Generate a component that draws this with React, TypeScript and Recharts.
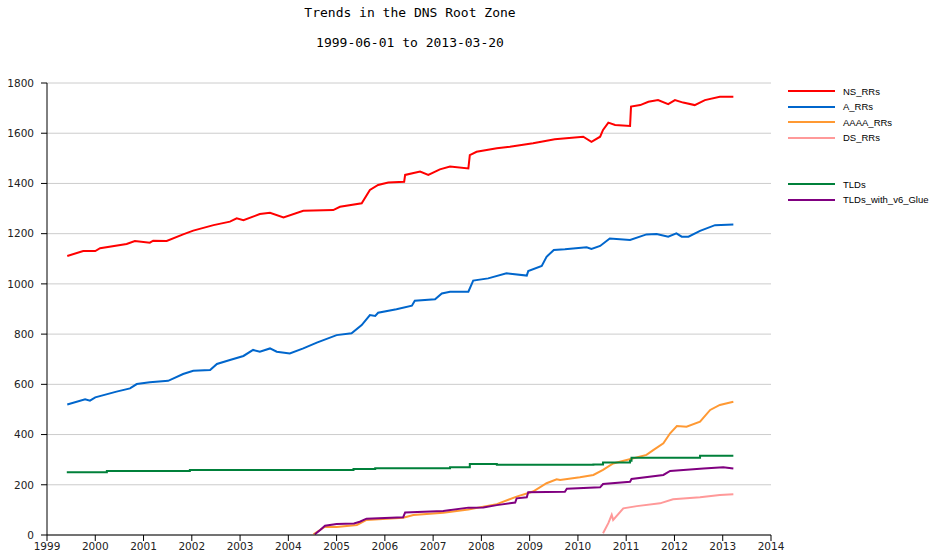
import { LineChart, Line, XAxis, YAxis, CartesianGrid } from "recharts";

// [year, count]
const nsRRs: [number, number][] = [
  [1999.42, 1111], [1999.75, 1131], [2000.0, 1131], [2000.1, 1142], [2000.65, 1159], [2000.82, 1171],
  [2001.13, 1164], [2001.2, 1172], [2001.48, 1171], [2001.82, 1197], [2002.03, 1212], [2002.45, 1234],
  [2002.79, 1248], [2002.93, 1261], [2003.07, 1254], [2003.41, 1278], [2003.62, 1283], [2003.9, 1265],
  [2004.31, 1291], [2004.93, 1294], [2005.07, 1307], [2005.52, 1321], [2005.69, 1374], [2005.86, 1394],
  [2006.07, 1404], [2006.4, 1407], [2006.42, 1434], [2006.73, 1447], [2006.9, 1434], [2007.14, 1456],
  [2007.35, 1467], [2007.73, 1460], [2007.76, 1513], [2007.9, 1526], [2008.32, 1540], [2008.59, 1546],
  [2009.07, 1560], [2009.52, 1576], [2010.11, 1586], [2010.28, 1566], [2010.46, 1586], [2010.52, 1613],
  [2010.63, 1642], [2010.77, 1633], [2011.08, 1629], [2011.1, 1706], [2011.29, 1712], [2011.46, 1725],
  [2011.66, 1732], [2011.87, 1716], [2012.01, 1732], [2012.18, 1722], [2012.42, 1712], [2012.63, 1732],
  [2012.94, 1745], [2013.22, 1745],
];

const aRRs: [number, number][] = [
  [1999.42, 520], [1999.79, 540], [1999.89, 535], [2000.0, 548], [2000.44, 571], [2000.72, 584],
  [2000.86, 601], [2001.13, 608], [2001.51, 614], [2001.82, 641], [2002.03, 654], [2002.38, 657],
  [2002.52, 681], [2002.79, 697], [2003.07, 713], [2003.27, 737], [2003.41, 730], [2003.62, 743],
  [2003.76, 730], [2004.03, 723], [2004.31, 743], [2004.59, 766], [2005.0, 796], [2005.31, 803],
  [2005.52, 836], [2005.69, 876], [2005.8, 872], [2005.86, 885], [2006.24, 899], [2006.56, 913],
  [2006.62, 933], [2007.04, 939], [2007.18, 962], [2007.35, 969], [2007.73, 969], [2007.83, 1013],
  [2008.14, 1022], [2008.52, 1042], [2008.94, 1033], [2008.97, 1051], [2009.25, 1071], [2009.35, 1108],
  [2009.5, 1135], [2009.73, 1138], [2010.18, 1146], [2010.28, 1139], [2010.46, 1151], [2010.66, 1181],
  [2011.08, 1175], [2011.42, 1197], [2011.63, 1199], [2011.87, 1188], [2012.04, 1201], [2012.15, 1188],
  [2012.29, 1188], [2012.53, 1211], [2012.84, 1234], [2013.22, 1237],
];

const aaaaRRs: [number, number][] = [
  [2004.52, 3], [2004.76, 33], [2005.0, 32], [2005.42, 40], [2005.62, 60], [2006.38, 69],
  [2006.59, 80], [2007.21, 89], [2007.73, 102], [2008.32, 123], [2008.73, 153], [2009.07, 173],
  [2009.35, 206], [2009.56, 222], [2009.63, 219], [2010.04, 230], [2010.32, 239], [2010.52, 259],
  [2010.73, 285], [2011.01, 299], [2011.42, 319], [2011.56, 338], [2011.77, 365], [2011.91, 405],
  [2012.05, 434], [2012.25, 431], [2012.53, 451], [2012.74, 498], [2012.94, 518], [2013.22, 531],
];

const dsRRs: [number, number][] = [
  [2010.52, 7], [2010.63, 47], [2010.7, 80], [2010.73, 60], [2010.94, 106], [2011.22, 115],
  [2011.7, 126], [2011.97, 142], [2012.53, 150], [2012.94, 159], [2013.22, 162],
];

const tlds: [number, number][] = [
  [1999.41, 250], [2000.24, 255], [2001.96, 259], [2005.35, 263], [2005.8, 266], [2007.35, 270],
  [2007.76, 283], [2008.32, 280], [2010.32, 281], [2010.52, 289], [2011.08, 296], [2011.11, 308],
  [2012.53, 316], [2013.22, 316],
];

const tldsV6Glue: [number, number][] = [
  [2004.55, 3], [2004.66, 20], [2004.76, 37], [2005.0, 44], [2005.36, 46], [2005.48, 53],
  [2005.62, 65], [2006.38, 71], [2006.42, 90], [2007.21, 96], [2007.73, 109], [2008.04, 110],
  [2008.32, 119], [2008.7, 129], [2008.73, 146], [2008.94, 150], [2008.97, 170], [2009.73, 172],
  [2009.77, 184], [2010.46, 190], [2010.52, 203], [2011.08, 212], [2011.11, 223], [2011.77, 239],
  [2011.91, 255], [2012.6, 265], [2013.01, 270], [2013.22, 265],
];

const yearTicks = [1999, 2000, 2001, 2002, 2003, 2004, 2005, 2006, 2007, 2008, 2009, 2010, 2011, 2012, 2013, 2014];
const valueTicks = [0, 200, 400, 600, 800, 1000, 1200, 1400, 1600, 1800];

const series = [
  { name: "NS_RRs", color: "#ff0000", points: nsRRs, step: false },
  { name: "A_RRs", color: "#0066cc", points: aRRs, step: false },
  { name: "AAAA_RRs", color: "#ff9933", points: aaaaRRs, step: false },
  { name: "DS_RRs", color: "#ff9999", points: dsRRs, step: false },
  { name: "TLDs", color: "#00803a", points: tlds, step: true },
  { name: "TLDs_with_v6_Glue", color: "#800080", points: tldsV6Glue, step: false },
];

const legendRows = [0, 1, 2, 3, 6, 7];
const tickFont = { fontFamily: "DejaVu Sans", fontSize: 10.5, fill: "#222" };

export default function App() {
  return (
    <div style={{ position: "absolute", left: 0, top: 0, width: 933, height: 559, background: "#fff", overflow: "hidden" }}>
      <div style={{ position: "absolute", left: 0, width: 820, top: 5, textAlign: "center", fontFamily: "DejaVu Sans Mono", fontSize: 13, color: "#000" }}>
        Trends in the DNS Root Zone
      </div>
      <div style={{ position: "absolute", left: 0, width: 820, top: 35, textAlign: "center", fontFamily: "DejaVu Sans Mono", fontSize: 13, color: "#000" }}>
        1999-06-01 to 2013-03-20
      </div>
      <LineChart width={933} height={559} margin={{ top: 83, right: 162, left: 0, bottom: 0 }}>
        <CartesianGrid vertical={false} stroke="#cccccc" />
        <XAxis
          dataKey="t"
          type="number"
          domain={[1999, 2014]}
          ticks={yearTicks}
          allowDataOverflow
          height={24}
          tickSize={6}
          tickMargin={2}
          stroke="#000"
          tick={tickFont}
          interval={0}
        />
        <YAxis
          type="number"
          domain={[0, 1800]}
          ticks={valueTicks}
          width={47}
          tickSize={6}
          tickMargin={7}
          stroke="#000"
          tick={tickFont}
          interval={0}
        />
        {series.map((s) => (
          <Line
            key={s.name}
            data={s.points.map(([t, v]) => ({ t, v }))}
            dataKey="v"
            name={s.name}
            type={s.step ? "stepAfter" : "linear"}
            stroke={s.color}
            strokeWidth={2}
            dot={false}
            isAnimationActive={false}
          />
        ))}
      </LineChart>
      {series.map((s, i) => (
        <div key={s.name} style={{ position: "absolute", left: 788, top: 83 + legendRows[i] * 15.5, height: 16, display: "flex", alignItems: "center" }}>
          <div style={{ width: 47, height: 2, background: s.color }} />
          <span style={{ marginLeft: 8, fontFamily: "Liberation Sans", fontSize: 9.5, color: "#000", whiteSpace: "nowrap" }}>{s.name}</span>
        </div>
      ))}
    </div>
  );
}
